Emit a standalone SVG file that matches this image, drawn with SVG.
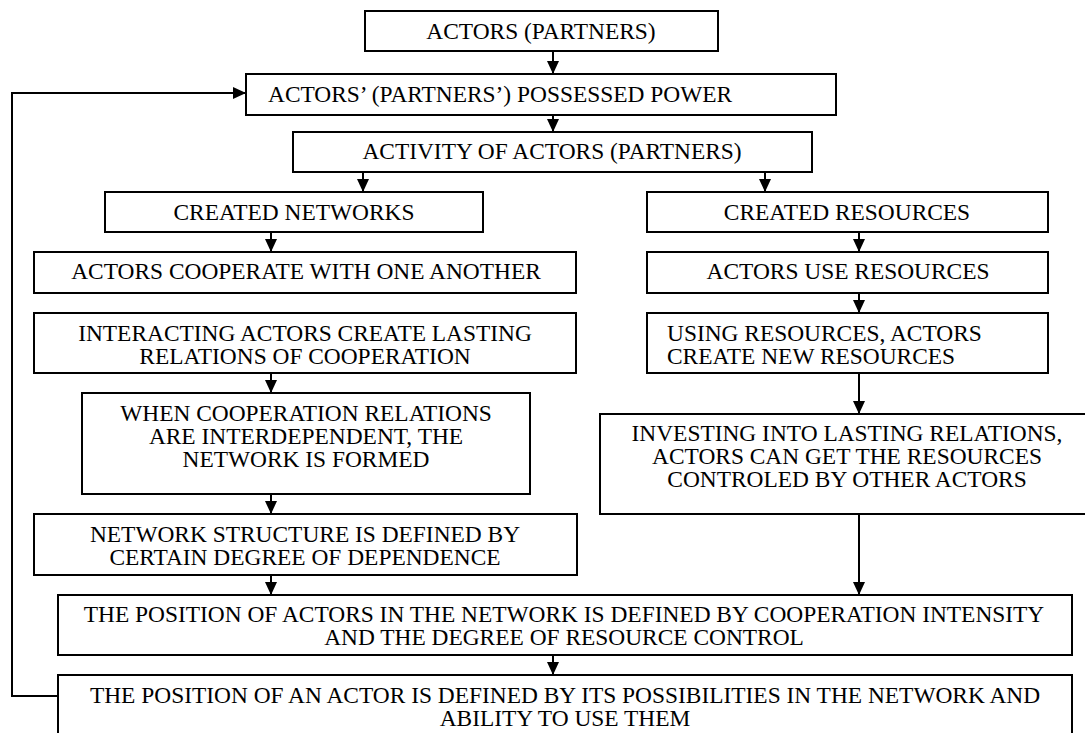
<svg xmlns="http://www.w3.org/2000/svg" width="1085" height="733" viewBox="0 0 1085 733">
<defs>
<style>
.box{fill:#fff;stroke:#000;stroke-width:2}
.ln{fill:none;stroke:#000;stroke-width:2}
.t{font-family:'Liberation Serif',serif;font-size:23.4px;fill:#000}
.c{text-anchor:middle}
</style>
<marker id="ah" markerUnits="userSpaceOnUse" markerWidth="14" markerHeight="14" refX="13" refY="6" orient="auto">
<path d="M0,0 L13,6 L0,12 z" fill="#000"/>
</marker>
</defs>
<rect width="1085" height="733" fill="#fff"/>
<g id="connectors">
<line class="ln" x1="553" y1="51" x2="553" y2="74" marker-end="url(#ah)"/>
<line class="ln" x1="553" y1="115" x2="553" y2="132" marker-end="url(#ah)"/>
<line class="ln" x1="363" y1="172" x2="363" y2="192" marker-end="url(#ah)"/>
<line class="ln" x1="765" y1="172" x2="765" y2="192" marker-end="url(#ah)"/>
<line class="ln" x1="271" y1="232" x2="271" y2="252" marker-end="url(#ah)"/>
<line class="ln" x1="859" y1="232" x2="859" y2="252" marker-end="url(#ah)"/>
<line class="ln" x1="859" y1="293" x2="859" y2="313" marker-end="url(#ah)"/>
<line class="ln" x1="271" y1="373" x2="271" y2="393" marker-end="url(#ah)"/>
<line class="ln" x1="859" y1="373" x2="859" y2="414" marker-end="url(#ah)"/>
<line class="ln" x1="271" y1="494" x2="271" y2="514" marker-end="url(#ah)"/>
<line class="ln" x1="271" y1="575" x2="271" y2="595" marker-end="url(#ah)"/>
<line class="ln" x1="859" y1="514" x2="859" y2="595" marker-end="url(#ah)"/>
<line class="ln" x1="553" y1="655" x2="553" y2="675" marker-end="url(#ah)"/>
<polyline class="ln" points="58,696 12,696 12,93 246,93" marker-end="url(#ah)"/>
</g>
<g id="n1"><rect class="box" x="365" y="11" width="353" height="40"/><text class="t c" x="541" y="39">ACTORS (PARTNERS)</text></g>
<g id="n2"><rect class="box" x="246" y="74" width="590" height="41"/><text class="t" x="268" y="102">ACTORS’ (PARTNERS’) POSSESSED POWER</text></g>
<g id="n3"><rect class="box" x="293" y="132" width="519" height="40"/><text class="t c" x="552" y="159">ACTIVITY OF ACTORS (PARTNERS)</text></g>
<g id="n4"><rect class="box" x="105" y="192" width="378" height="40"/><text class="t c" x="294" y="220">CREATED NETWORKS</text></g>
<g id="n5"><rect class="box" x="647" y="192" width="401" height="40"/><text class="t c" x="847" y="220">CREATED RESOURCES</text></g>
<g id="n6"><rect class="box" x="34" y="252" width="542" height="41"/><text class="t c" x="306" y="279">ACTORS COOPERATE WITH ONE ANOTHER</text></g>
<g id="n7"><rect class="box" x="647" y="252" width="401" height="41"/><text class="t c" x="848" y="279">ACTORS USE RESOURCES</text></g>
<g id="n8"><rect class="box" x="34" y="313" width="542" height="60"/><text class="t c" x="305" y="341">INTERACTING ACTORS CREATE LASTING</text><text class="t c" x="305" y="364">RELATIONS OF COOPERATION</text></g>
<g id="n9"><rect class="box" x="647" y="313" width="401" height="60"/><text class="t" x="667" y="341">USING RESOURCES, ACTORS</text><text class="t" x="667" y="364">CREATE NEW RESOURCES</text></g>
<g id="n10"><rect class="box" x="82" y="393" width="448" height="101"/><text class="t c" x="306" y="421">WHEN COOPERATION RELATIONS</text><text class="t c" x="306" y="444">ARE INTERDEPENDENT, THE</text><text class="t c" x="306" y="467">NETWORK IS FORMED</text></g>
<g id="n11"><rect class="box" x="600" y="414" width="494" height="100"/><text class="t c" x="847" y="441">INVESTING INTO LASTING RELATIONS,</text><text class="t c" x="847" y="464">ACTORS CAN GET THE RESOURCES</text><text class="t c" x="847" y="487">CONTROLED BY OTHER ACTORS</text></g>
<g id="n12"><rect class="box" x="34" y="514" width="543" height="61"/><text class="t c" x="305" y="542">NETWORK STRUCTURE IS DEFINED BY</text><text class="t c" x="305" y="565">CERTAIN DEGREE OF DEPENDENCE</text></g>
<g id="n13"><rect class="box" x="58" y="595" width="1014" height="60"/><text class="t c" x="564" y="622">THE POSITION OF ACTORS IN THE NETWORK IS DEFINED BY COOPERATION INTENSITY</text><text class="t c" x="564" y="645">AND THE DEGREE OF RESOURCE CONTROL</text></g>
<g id="n14"><rect class="box" x="58" y="675" width="1014" height="70"/><text class="t c" x="565" y="703">THE POSITION OF AN ACTOR IS DEFINED BY ITS POSSIBILITIES IN THE NETWORK AND</text><text class="t c" x="565" y="726">ABILITY TO USE THEM</text></g>
</svg>
